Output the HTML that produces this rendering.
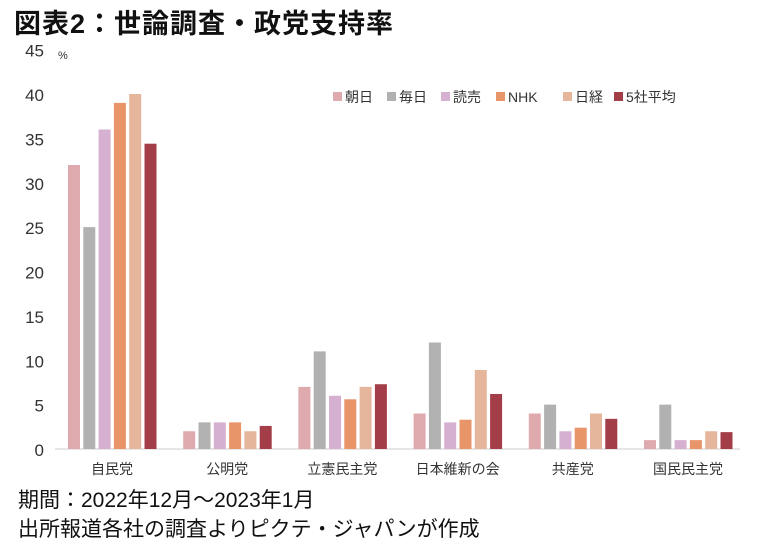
<!DOCTYPE html>
<html><head><meta charset="utf-8"><style>
body{margin:0;background:#fff;width:776px;height:547px;overflow:hidden;font-family:"Liberation Sans","Noto Sans CJK JP",sans-serif;}
#title{position:absolute;left:14px;top:2px;font-size:27px;font-weight:bold;color:#111;letter-spacing:1px;}
.foot{position:absolute;left:18px;font-size:21px;color:#111;}
svg{position:absolute;left:0;top:0;}
</style></head><body>
<div id="title">図表2：世論調査・政党支持率</div>
<svg id="chart" width="776" height="547"></svg>
<div class="foot" style="top:484px">期間：2022年12月～2023年1月</div>
<div class="foot" style="top:513px">出所報道各社の調査よりピクテ・ジャパンが作成</div>
<script>
const categories=["自民党","公明党","立憲民主党","日本維新の会","共産党","国民民主党"];
const seriesNames=["朝日","毎日","読売","NHK","日経","5社平均"];
const asahi=[32,2,7,4,4,1];
const mainichi=[25,3,11,12,5,5];
const yomiuri=[36,3,6,3,2,1];
const nhk=[39,3,5.6,3.3,2.4,1];
const nikkei=[40,2,7,8.9,4,2];
const avg5=[34.4,2.6,7.3,6.2,3.4,1.9];
const yTicks=[0,5,10,15,20,25,30,35,40,45];
const colors=["#dfaaae","#b1b1b1","#d6b0d0","#e8956a","#e6b69c","#a33d47"];
const series=[asahi,mainichi,yomiuri,nhk,nikkei,avg5];
const NS="http://www.w3.org/2000/svg";
const svg=document.getElementById('chart');
const y0=449,pxPer=8.875;
function yScale(v){return y0-v*pxPer;}
function xGroup(i){return 68+i*115.2;}
function mk(t,a){const e=document.createElementNS(NS,t);for(const k in a)e.setAttribute(k,a[k]);svg.appendChild(e);return e;}
yTicks.forEach(t=>{
 const e=mk('text',{x:44,y:yScale(t)+7,'text-anchor':'end','font-size':17,fill:'#333'});
 e.textContent=t;
 
 
});
const u=mk('text',{x:58,y:59,'font-size':11,fill:'#333'});u.textContent='%';


const ax=mk('line',{x1:55,x2:740,y1:y0,y2:y0,stroke:'#ddd','stroke-width':1.5});


categories.forEach((c,i)=>{
 series.forEach((s,j)=>{
  const v=s[i];
  const r=mk('rect',{x:xGroup(i)+j*15.3,y:yScale(v),width:12,height:v*pxPer,fill:colors[j]});
  
  
 });
 const t=mk('text',{x:xGroup(i)+44,y:474,'text-anchor':'middle','font-size':14,fill:'#333'});
 t.textContent=c;
 
 
});
const lx=[333,387,441,496,563,614];
seriesNames.forEach((n,j)=>{
 const r=mk('rect',{x:lx[j],y:92,width:9,height:9,fill:colors[j]});
 
 
 const t=mk('text',{x:lx[j]+12,y:102,'font-size':14,fill:'#333'});
 t.textContent=n;
 
 
});
</script>
</body></html>
